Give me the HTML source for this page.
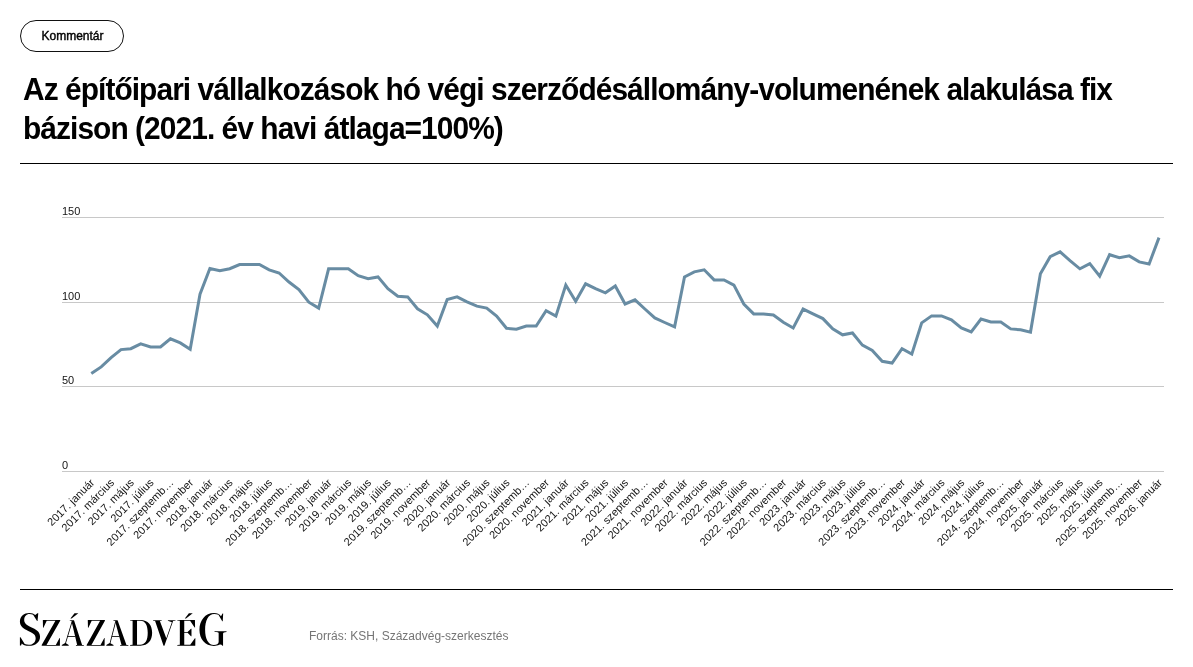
<!DOCTYPE html>
<html lang="hu"><head><meta charset="utf-8"><title>Chart</title>
<style>
html,body{margin:0;padding:0;background:#fff;}
body{width:1193px;height:667px;position:relative;overflow:hidden;font-family:"Liberation Sans",sans-serif;color:#000;}
.btn{position:absolute;left:20px;top:20px;width:102px;height:30px;border:1px solid #111;border-radius:16px;font-size:12px;line-height:30px;text-align:center;letter-spacing:0px;text-indent:1px;-webkit-text-stroke:0.4px #000;}
h1{position:absolute;left:22.9px;top:70.3px;margin:0;font-size:32px;line-height:38.4px;font-weight:700;letter-spacing:-1.015px;white-space:nowrap;transform:scaleX(0.935);transform-origin:0 0;}
.rule{position:absolute;left:20px;width:1153px;height:1px;background:#000;}
svg.chart{position:absolute;left:0;top:0;}
svg.chart text{font-family:"Liberation Sans",sans-serif;font-size:11px;fill:#141414;}
.src{position:absolute;left:309px;top:629px;font-size:12px;line-height:14px;color:#757575;white-space:nowrap;}
#wrap{position:absolute;left:0;top:0;width:1193px;height:667px;will-change:transform;}
</style></head><body><div id="wrap">
<div class="btn">Kommentár</div>
<h1>Az építőipari vállalkozások hó végi szerződésállomány-volumenének alakulása fix<br>bázison (2021. év havi átlaga=100%)</h1>
<div class="rule" style="top:163px"></div>
<svg class="chart" width="1193" height="667" viewBox="0 0 1193 667">
<g stroke="#c8c8c8" stroke-width="1" shape-rendering="crispEdges">
<line x1="62" x2="1164" y1="217.5" y2="217.5"/>
<line x1="62" x2="1164" y1="302.5" y2="302.5"/>
<line x1="62" x2="1164" y1="386.5" y2="386.5"/>
<line x1="62" x2="1164" y1="471.5" y2="471.5"/>
</g>
<g>
<text x="62" y="215">150</text>
<text x="62" y="300">100</text>
<text x="62" y="384">50</text>
<text x="62" y="469">0</text>
</g>
<polyline fill="none" stroke="#688ca3" stroke-width="3" stroke-linejoin="miter" stroke-linecap="butt" points="91.3,373.5 101.2,366.9 111.1,357.7 121.0,349.6 130.8,348.7 140.7,343.8 150.6,346.9 160.5,346.9 170.4,338.8 180.3,342.9 190.2,349.2 200.0,294.2 209.9,268.5 219.8,270.8 229.7,268.7 239.6,264.5 249.5,264.5 259.4,264.5 269.2,269.9 279.1,273.0 289.0,282.0 298.9,289.6 308.8,302.2 318.7,308.1 328.6,268.8 338.4,268.8 348.3,268.8 358.2,275.7 368.1,278.7 378.0,276.9 387.9,288.7 397.8,296.2 407.7,296.9 417.5,308.8 427.4,314.8 437.3,326.1 447.2,299.5 457.1,296.9 467.0,301.8 476.9,306.1 486.7,308.1 496.6,316.1 506.5,328.3 516.4,329.2 526.3,326.0 536.2,326.0 546.1,310.8 555.9,316.1 565.8,285.0 575.7,301.3 585.6,283.8 595.5,288.7 605.4,292.8 615.3,286.0 625.1,304.0 635.0,299.8 644.9,309.0 654.8,317.9 664.7,322.5 674.6,326.9 684.5,276.9 694.3,271.9 704.2,269.8 714.1,279.9 724.0,279.9 733.9,285.1 743.8,304.0 753.7,313.9 763.5,313.9 773.4,315.0 783.3,322.2 793.2,328.0 803.1,309.1 813.0,313.9 822.9,318.6 832.7,328.9 842.6,334.8 852.5,333.0 862.4,345.1 872.3,350.5 882.2,361.3 892.1,363.1 902.0,348.7 911.8,354.1 921.7,322.9 931.6,315.9 941.5,315.9 951.4,319.9 961.3,328.0 971.2,332.0 981.0,319.0 990.9,322.0 1000.8,322.0 1010.7,328.9 1020.6,329.8 1030.5,332.1 1040.4,273.7 1050.2,256.7 1060.1,251.8 1070.0,260.7 1079.9,268.8 1089.8,263.6 1099.7,276.1 1109.6,254.7 1119.4,257.8 1129.3,255.9 1139.2,261.9 1149.1,264.0 1159.0,237.6"/>
<g>
<text transform="translate(95.1,483.3) rotate(-45)" text-anchor="end">2017. január</text>
<text transform="translate(114.9,483.3) rotate(-45)" text-anchor="end">2017. március</text>
<text transform="translate(134.6,483.3) rotate(-45)" text-anchor="end">2017. május</text>
<text transform="translate(154.4,483.3) rotate(-45)" text-anchor="end">2017. július</text>
<text transform="translate(174.2,483.3) rotate(-45)" text-anchor="end">2017. szeptemb…</text>
<text transform="translate(194.0,483.3) rotate(-45)" text-anchor="end">2017. november</text>
<text transform="translate(213.7,483.3) rotate(-45)" text-anchor="end">2018. január</text>
<text transform="translate(233.5,483.3) rotate(-45)" text-anchor="end">2018. március</text>
<text transform="translate(253.3,483.3) rotate(-45)" text-anchor="end">2018. május</text>
<text transform="translate(273.0,483.3) rotate(-45)" text-anchor="end">2018. július</text>
<text transform="translate(292.8,483.3) rotate(-45)" text-anchor="end">2018. szeptemb…</text>
<text transform="translate(312.6,483.3) rotate(-45)" text-anchor="end">2018. november</text>
<text transform="translate(332.4,483.3) rotate(-45)" text-anchor="end">2019. január</text>
<text transform="translate(352.1,483.3) rotate(-45)" text-anchor="end">2019. március</text>
<text transform="translate(371.9,483.3) rotate(-45)" text-anchor="end">2019. május</text>
<text transform="translate(391.7,483.3) rotate(-45)" text-anchor="end">2019. július</text>
<text transform="translate(411.5,483.3) rotate(-45)" text-anchor="end">2019. szeptemb…</text>
<text transform="translate(431.2,483.3) rotate(-45)" text-anchor="end">2019. november</text>
<text transform="translate(451.0,483.3) rotate(-45)" text-anchor="end">2020. január</text>
<text transform="translate(470.8,483.3) rotate(-45)" text-anchor="end">2020. március</text>
<text transform="translate(490.5,483.3) rotate(-45)" text-anchor="end">2020. május</text>
<text transform="translate(510.3,483.3) rotate(-45)" text-anchor="end">2020. július</text>
<text transform="translate(530.1,483.3) rotate(-45)" text-anchor="end">2020. szeptemb…</text>
<text transform="translate(549.9,483.3) rotate(-45)" text-anchor="end">2020. november</text>
<text transform="translate(569.6,483.3) rotate(-45)" text-anchor="end">2021. január</text>
<text transform="translate(589.4,483.3) rotate(-45)" text-anchor="end">2021. március</text>
<text transform="translate(609.2,483.3) rotate(-45)" text-anchor="end">2021. május</text>
<text transform="translate(628.9,483.3) rotate(-45)" text-anchor="end">2021. július</text>
<text transform="translate(648.7,483.3) rotate(-45)" text-anchor="end">2021. szeptemb…</text>
<text transform="translate(668.5,483.3) rotate(-45)" text-anchor="end">2021. november</text>
<text transform="translate(688.3,483.3) rotate(-45)" text-anchor="end">2022. január</text>
<text transform="translate(708.0,483.3) rotate(-45)" text-anchor="end">2022. március</text>
<text transform="translate(727.8,483.3) rotate(-45)" text-anchor="end">2022. május</text>
<text transform="translate(747.6,483.3) rotate(-45)" text-anchor="end">2022. július</text>
<text transform="translate(767.3,483.3) rotate(-45)" text-anchor="end">2022. szeptemb…</text>
<text transform="translate(787.1,483.3) rotate(-45)" text-anchor="end">2022. november</text>
<text transform="translate(806.9,483.3) rotate(-45)" text-anchor="end">2023. január</text>
<text transform="translate(826.7,483.3) rotate(-45)" text-anchor="end">2023. március</text>
<text transform="translate(846.4,483.3) rotate(-45)" text-anchor="end">2023. május</text>
<text transform="translate(866.2,483.3) rotate(-45)" text-anchor="end">2023. július</text>
<text transform="translate(886.0,483.3) rotate(-45)" text-anchor="end">2023. szeptemb…</text>
<text transform="translate(905.8,483.3) rotate(-45)" text-anchor="end">2023. november</text>
<text transform="translate(925.5,483.3) rotate(-45)" text-anchor="end">2024. január</text>
<text transform="translate(945.3,483.3) rotate(-45)" text-anchor="end">2024. március</text>
<text transform="translate(965.1,483.3) rotate(-45)" text-anchor="end">2024. május</text>
<text transform="translate(984.8,483.3) rotate(-45)" text-anchor="end">2024. július</text>
<text transform="translate(1004.6,483.3) rotate(-45)" text-anchor="end">2024. szeptemb…</text>
<text transform="translate(1024.4,483.3) rotate(-45)" text-anchor="end">2024. november</text>
<text transform="translate(1044.2,483.3) rotate(-45)" text-anchor="end">2025. január</text>
<text transform="translate(1063.9,483.3) rotate(-45)" text-anchor="end">2025. március</text>
<text transform="translate(1083.7,483.3) rotate(-45)" text-anchor="end">2025. május</text>
<text transform="translate(1103.5,483.3) rotate(-45)" text-anchor="end">2025. július</text>
<text transform="translate(1123.2,483.3) rotate(-45)" text-anchor="end">2025. szeptemb…</text>
<text transform="translate(1143.0,483.3) rotate(-45)" text-anchor="end">2025. november</text>
<text transform="translate(1162.8,483.3) rotate(-45)" text-anchor="end">2026. január</text>
</g>
</svg>
<div class="rule" style="top:589px"></div>
<svg class="logo" width="1193" height="667" viewBox="0 0 1193 667" style="position:absolute;left:0;top:0"><g fill="#000"><g transform="translate(16,608) scale(0.06297)"><path d="M 354,85 L 342,208 L 334,208 L 272,106 C 255,98 235,95 215,95 C 165,95 130,135 130,190 C 130,245 175,275 240,305 C 310,335 382,370 382,455 C 382,540 310,600 205,600 C 150,600 112,588 92,562 L 80,596 L 62,596 L 62,463 L 72,463 L 138,572 C 158,581 180,585 205,585 C 265,585 312,545 312,480 C 312,420 265,395 195,365 C 120,330 62,295 62,215 C 62,135 130,80 210,80 C 255,80 285,92 305,112 L 340,85 Z"/><path d="M 426,192 L 702,192 L 702,204 L 484,586 L 632,586 L 692,476 L 698,476 L 697,598 L 408,598 L 408,586 L 626,204 L 488,204 L 435,314 L 429,314 Z"/></g>
<g transform="translate(58,608) scale(0.06297)"><path d="M 187,194 L 254,194 L 382.5,586 L 410,589 L 410,598 L 285,598 L 285,589 L 304.5,586 L 213.85,206 L 187,202 Z"/><path d="M 216,219 L 227,226 L 126,558 L 170,589 L 170,598 L 60,598 L 60,589 L 114,554 Z"/><rect x="148" y="445" width="126.5" height="13"/><path d="M 197,168 L 262,84 L 323,83 L 216,168 Z"/><path d="M 473,192 L 745,192 L 745,204 L 531,586 L 675,586 L 735,476 L 741,476 L 740,598 L 455,598 L 455,586 L 669,204 L 535,204 L 482,314 L 476,314 Z"/></g>
<g transform="translate(100,608) scale(0.06297)"><path d="M 212,194 L 279,194 L 420.0,586 L 450,589 L 450,598 L 320,598 L 320,589 L 342.0,586 L 239.1,206 L 212,202 Z"/><path d="M 241,219 L 252,226 L 166,558 L 215,589 L 215,598 L 100,598 L 100,589 L 154,554 Z"/><rect x="188" y="445" width="124.0" height="13"/></g>
<g transform="translate(126,608) scale(0.06297)"><path fill-rule="evenodd" d="M 65,190 L 230,190 C 350,190 415,270 415,395 C 415,520 350,598 230,598 L 65,598 L 65,588 L 105,584 L 105,204 L 65,200 Z M 175,203 L 225,203 C 310,203 345,280 345,395 C 345,510 310,585 225,585 L 175,585 Z"/><path d="M 429,193 L 568,193 L 568,203 L 538,206 L 640,480 L 728,225 L 665,203 L 665,193 L 786,193 L 786,203 L 748,208 L 610,600 L 596,600 L 462,206 L 429,203 Z"/></g>
<g transform="translate(160,608) scale(0.06297)"><path d="M 275,190 L 555,190 L 557,310 L 550,310 L 478,203 L 385,203 L 385,380 L 438,380 L 492,330 L 500,330 L 500,450 L 492,450 L 438,392 L 385,392 L 385,585 L 480,585 L 554,480 L 562,480 L 560,598 L 275,598 L 275,588 L 315,584 L 315,204 L 275,200 Z"/><path d="M 394,168 L 459,84 L 520,83 L 413,168 Z"/></g>
<g transform="translate(190,608) scale(0.06297)"><path d="M 527,88 L 520,210 L 512,210 L 452,106 C 432,98 410,95 385,95 C 290,95 240,200 240,345 C 240,490 290,587 380,587 C 420,587 455,570 455,540 L 455,400 C 455,388 430,385 390,383 L 390,370 L 580,370 L 580,383 C 545,385 525,390 525,410 L 525,598 L 515,598 C 500,580 485,575 465,585 C 440,597 415,602 380,602 C 240,602 150,490 150,345 C 150,200 240,80 380,80 C 430,80 468,100 492,130 L 517,88 Z"/></g></g></svg>
<div class="src">Forrás: KSH, Századvég-szerkesztés</div>
</div></body></html>
